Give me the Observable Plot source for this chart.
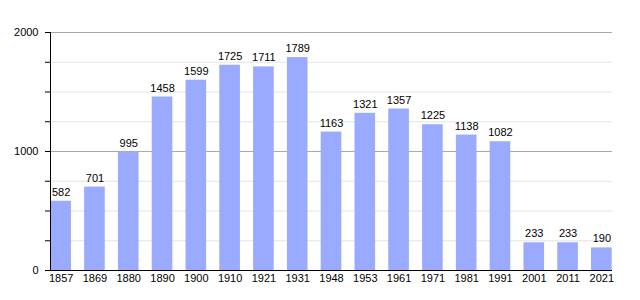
<!DOCTYPE html>
<html><head><meta charset="utf-8">
<script src="https://cdn.jsdelivr.net/npm/d3@7"></script>
<script src="https://cdn.jsdelivr.net/npm/@observablehq/plot@0.6"></script>
<style>body{margin:0;background:#fff}</style>
</head><body><div id="chart"></div>
<script>
const years = ["1857","1869","1880","1890","1900","1910","1921","1931","1948","1953","1961","1971","1981","1991","2001","2011","2021"];
const population = [582,701,995,1458,1599,1725,1711,1789,1163,1321,1357,1225,1138,1082,233,233,190];
const minorTicks = [250,500,750,1250,1500,1750];
const majorTicks = [1000,2000];
const yTicks = [0,250,500,750,1000,1250,1500,1750,2000];
const yLabels = [0,1000,2000];

const data = years.map((y,i)=>({year:y, value:population[i]}));

const chart = Plot.plot({
  width:640, height:300,
  marginLeft:50, marginRight:28, marginTop:32, marginBottom:30,
  style:{fontFamily:"'Liberation Sans', Arial, sans-serif", fontSize:"11px", color:"#000", background:"#fff"},
  x:{domain:years, paddingInner:0.39, paddingOuter:0.01, round:false, label:null},
  y:{domain:[0,2000], label:null},
  marks:[
    Plot.ruleY(minorTicks,{stroke:"#e4e4e4", strokeWidth:1}),
    Plot.ruleY(majorTicks,{stroke:"#aaaaaa", strokeWidth:1}),
    Plot.barY(data,{x:"year", y:"value", fill:"#99aaff"}),
    Plot.text(data,{x:"year", y:"value", text:d=>String(d.value), dy:-9, fill:"#000", fontSize:11}),
    Plot.ruleY([0],{stroke:"#000", strokeWidth:1.2}),
    Plot.frame({anchor:"left", stroke:"#000"}),
    Plot.axisY(yTicks,{anchor:"left", tickSize:5, stroke:"#000", tickFormat:()=>"", label:null}),
    Plot.axisY(yLabels,{anchor:"left", tickSize:0, tickPadding:12, fill:"#000", fontSize:11, tickFormat:"d", label:null}),
    Plot.axisX({tickSize:0, tickPadding:4, fill:"#000", fontSize:11, label:null})
  ]
});
document.getElementById("chart").append(chart);
</script></body></html>
